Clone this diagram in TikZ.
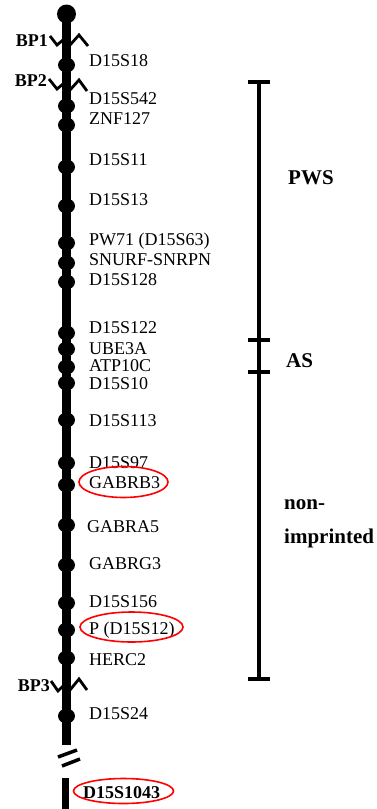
\documentclass[tikz,border=0pt]{standalone}
\usepackage{fontspec}
\setmainfont{Liberation Serif}
\usetikzlibrary{positioning, shapes.geometric}

\begin{document}
\begin{tikzpicture}[
  x=1pt, y=-1pt,
  every node/.style={font=\fontsize{18}{20}\selectfont},
  chrom/.style={line width=9.5pt},
  locus/.style={ellipse, fill=black, minimum width=17pt, minimum height=15pt, inner sep=0pt},
  lab/.style={anchor=base west, inner sep=0pt},
  bp/.style={anchor=base east, inner sep=0pt, font=\bfseries\fontsize{18}{20}\selectfont},
  zig/.style={line width=2.8pt, line join=miter},
  ring/.style={ellipse, draw=red, line width=1.6pt, inner sep=0pt},
  zone/.style={anchor=base west, inner sep=0pt, font=\bfseries\fontsize{21}{26}\selectfont},
  bar/.style={line width=4.5pt},
  tick/.style={line width=4pt},
  cut/.style={line width=3.5pt},
]
\useasboundingbox (0,0) rectangle (376,809);

% chromosome backbone
\node[circle, fill=black, minimum size=19pt, inner sep=0pt] (tel) at (66.5,14) {};
\coordinate (brkA) at (66.5,745);
\coordinate (brkB) at (65.5,778);
\coordinate (qEnd) at (65.5,809);
\draw[chrom] (tel.center) -- (brkA);
\draw[line width=7.5pt] (brkB) -- (qEnd);
\draw[cut] (58,757) -- (77,750);
\draw[cut] (62,766) -- (80,759);

% breakpoints
\node[bp] (bp1) at (48,46) {BP1};
\draw[zig] (50,36) -- (57,45) -- (63,40);
\draw[zig] (70,45) -- (79,35) -- (88,46);
\node[bp] (bp2) at (47,86) {BP2};
\draw[zig] (49,79) -- (57,89) -- (63,84);
\draw[zig] (70,90) -- (79,80) -- (87,91);
\node[bp] (bp3) at (50,691) {BP3};
\draw[zig] (51,681) -- (58,691) -- (63,686);
\draw[zig] (70,690) -- (79,679) -- (87,690);

% markers along the chromosome
\node[locus] (mS18) at (66.5,65) {};
\node[lab] (tS18) at (89,66) {D15S18};
\node[locus] (mS542) at (66.5,106) {};
\node[lab] (tS542) at (89,104) {D15S542};
\node[locus] (mZNF) at (66.5,125) {};
\node[lab] (tZNF) at (89,124) {ZNF127};
\node[locus] (mS11) at (66.5,167) {};
\node[lab] (tS11) at (89,165) {D15S11};
\node[locus] (mS13) at (66.5,206) {};
\node[lab] (tS13) at (89,205) {D15S13};
\node[locus] (mPW) at (66.5,243) {};
\node[lab] (tPW) at (89,245) {PW71 (D15S63)};
\node[locus] (mSNRPN) at (66.5,263) {};
\node[lab] (tSNRPN) at (89,265) {SNURF-SNRPN};
\node[locus] (mS128) at (66.5,282) {};
\node[lab] (tS128) at (89,285) {D15S128};
\node[locus] (mS122) at (66.5,333) {};
\node[lab] (tS122) at (89,333) {D15S122};
\node[locus] (mUBE) at (66.5,349) {};
\node[lab] (tUBE) at (89,354) {UBE3A};
\node[locus] (mATP) at (66.5,367) {};
\node[lab] (tATP) at (89,371) {ATP10C};
\node[locus] (mS10) at (66.5,383) {};
\node[lab] (tS10) at (89,389) {D15S10};
\node[locus] (mS113) at (66.5,420) {};
\node[lab] (tS113) at (89,426) {D15S113};
\node[locus] (mS97) at (66.5,463) {};
\node[lab] (tS97) at (89,468) {D15S97};
\node[locus] (mGB3) at (66.5,485) {};
\node[lab] (tGB3) at (89,488) {GABRB3};
\node[locus] (mGA5) at (66.5,525) {};
\node[lab] (tGA5) at (87,532) {GABRA5};
\node[locus] (mGG3) at (66.5,565) {};
\node[lab] (tGG3) at (89,569) {GABRG3};
\node[locus] (mS156) at (66.5,603) {};
\node[lab] (tS156) at (89,607) {D15S156};
\node[locus] (mP) at (66.5,630) {};
\node[lab] (tP) at (89,634) {P (D15S12)};
\node[locus] (mHERC) at (66.5,658) {};
\node[lab] (tHERC) at (89,665) {HERC2};
\node[locus] (mS24) at (66.5,716) {};
\node[lab] (tS24) at (89,719) {D15S24};
\node[lab, font=\bfseries\fontsize{18}{20}\selectfont] (tS1043) at (83,798) {D15S1043};

% circled markers
\node[ring, minimum width=89pt, minimum height=31pt] (rGB3) at (123.5,482) {};
\node[ring, minimum width=103pt, minimum height=30pt] (rP) at (131.5,627) {};
\node[ring, minimum width=100pt, minimum height=25pt] (rS1043) at (123.5,791) {};

% imprinting regions
\coordinate (pwsTop) at (259,82);
\coordinate (asTop) at (259,340);
\coordinate (asBot) at (259,372);
\coordinate (niBot) at (259,679);
\draw[bar] (pwsTop) -- (niBot);
\foreach \c in {pwsTop, asTop, asBot, niBot}
  \draw[tick] (\c) ++(-11,0) -- ++(22,0);
\node[zone] (pws) at (288,184.5) {PWS};
\node[zone] (as) at (286,367.5) {AS};
\node[zone] (ni1) at (284,509) {non-};
\node[zone] (ni2) at (284,543) {imprinted};
\end{tikzpicture}
\end{document}
